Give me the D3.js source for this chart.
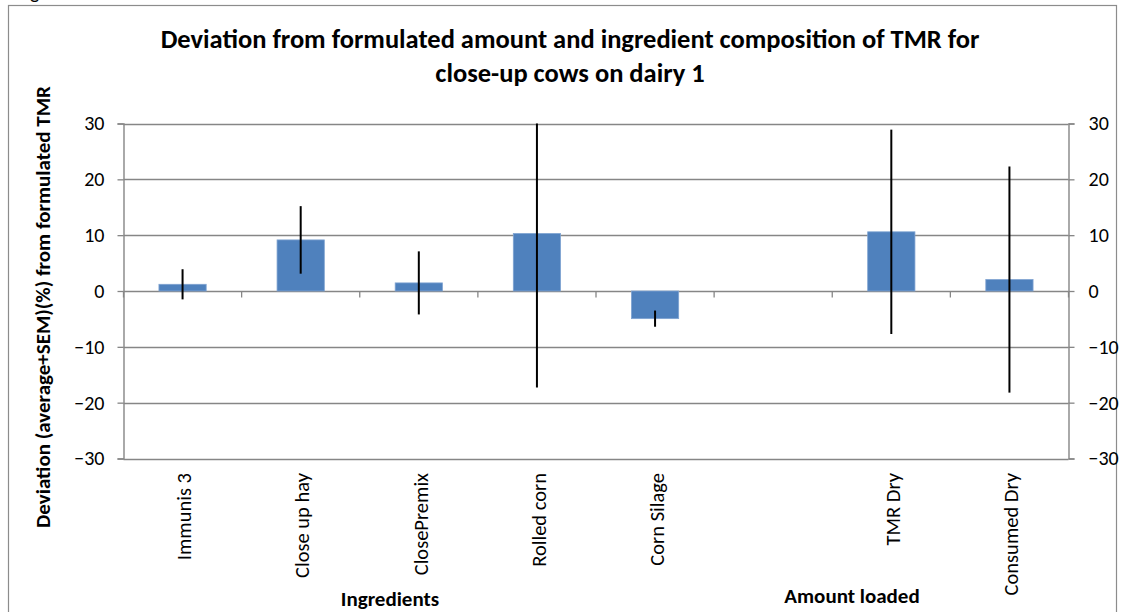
<!DOCTYPE html>
<html><head><meta charset="utf-8">
<script src="https://cdn.jsdelivr.net/npm/d3@7"></script>
<style>body{margin:0;background:#fff}svg{display:block}text{font-family:Carlito,Lato,"Liberation Sans",sans-serif;fill:#000}</style>
</head><body>
<svg id="c" width="1125" height="612"></svg>
<script>
const categories = ["Immunis 3","Close up hay","ClosePremix","Rolled corn","Corn Silage","","TMR Dry","Consumed Dry"];
const values = [1.2, 9.15, 1.45, 10.3, -4.95, null, 10.6, 2.05];
const sem = [2.7, 6.05, 5.65, 27.6, 1.45, null, 18.3, 20.25];
const yTicks = [-30,-20,-10,0,10,20,30];
const titleLines = ["Deviation from formulated amount and ingredient composition of TMR for","close-up cows on dairy 1"];
const yTitle = "Deviation (average+SEM)(%) from formulated TMR";
const groupLabels = ["Ingredients","Amount loaded"];

const svg = d3.select("#c");
const L=123.5, R=1068.5, T=123.5, B=458.5;
const grid="#868686";
const x = d3.scaleBand().domain(d3.range(categories.length)).range([L,R]).padding(0);
const y = d3.scaleLinear().domain([-30,30]).range([B,T]);

// frame
svg.append("rect").attr("x",8.5).attr("y",5.5).attr("width",1108).attr("height",620).attr("fill","none").attr("stroke","#8c8c8c").attr("stroke-width",1.2);
svg.append("text").attr("x",30).attr("y",-1).attr("font-size",20).text("g");

// gridlines
svg.append("g").selectAll("line").data(yTicks).join("line")
 .attr("x1",L).attr("x2",R).attr("y1",d=>Math.round(y(d))+0.5).attr("y2",d=>Math.round(y(d))+0.5)
 .attr("stroke",grid).attr("stroke-width",1.3);

// axes
const la = svg.append("g").attr("transform",`translate(${L},0)`).call(d3.axisLeft(y).tickValues(yTicks).tickSize(6).tickPadding(13));
const ra = svg.append("g").attr("transform",`translate(${R},0)`).call(d3.axisRight(y).tickValues(yTicks).tickSize(6).tickPadding(14));
[la,ra].forEach(a=>{a.selectAll("path").attr("stroke",grid).attr("stroke-width",1.4);
 a.selectAll("line").attr("stroke",grid).attr("stroke-width",1.3);
 a.selectAll("text").attr("font-size",20).attr("fill","#000");
 a.attr("font-family",null).attr("font-size",null);});

// category axis at zero
const y0 = Math.round(y(0))+0.5;
const bounds = d3.range(categories.length+1).map(i=> i<categories.length? x(i) : R);
svg.append("g").selectAll("line").data(bounds).join("line")
 .attr("x1",d=>d).attr("x2",d=>d).attr("y1",y0).attr("y2",y0+6).attr("stroke",grid).attr("stroke-width",1.3);

// bars
const bw = x.bandwidth()*0.4;
const idx = d3.range(categories.length).filter(i=>values[i]!==null);
svg.append("g").selectAll("rect").data(idx).join("rect")
 .attr("x",i=>x(i)+x.bandwidth()/2-bw/2).attr("width",bw)
 .attr("y",i=>y(Math.max(0,values[i]))).attr("height",i=>Math.abs(y(values[i])-y(0)))
 .attr("fill","#4f81bd").attr("stroke","#7fa3d1").attr("stroke-width",0.8);

// error bars (clipped to axis range)
svg.append("g").selectAll("line").data(idx).join("line")
 .attr("x1",i=>x(i)+x.bandwidth()/2).attr("x2",i=>x(i)+x.bandwidth()/2)
 .attr("y1",i=>y(Math.min(30,values[i]+sem[i]))).attr("y2",i=>y(Math.max(-30,values[i]-sem[i])))
 .attr("stroke","#000").attr("stroke-width",2);

// category labels
svg.append("g").selectAll("text").data(d3.range(categories.length)).join("text")
 .attr("transform",i=>`translate(${x(i)+x.bandwidth()/2+1.5},473) rotate(-90)`)
 .attr("text-anchor","end").attr("dy","0.35em").attr("font-size",20.5).text(i=>categories[i]);

// title
svg.append("text").attr("text-anchor","middle").attr("font-size",26.5).attr("font-weight","bold")
 .selectAll("tspan").data(titleLines).join("tspan").attr("x",570).attr("y",(d,i)=>48+i*34).text(d=>d);

// y title
svg.append("text").attr("transform","translate(50,307) rotate(-90)").attr("text-anchor","middle")
 .attr("font-size",21).attr("font-weight","bold").text(yTitle);

// group labels
svg.append("text").attr("x",390).attr("y",606).attr("text-anchor","middle").attr("font-size",21).attr("font-weight","bold").text(groupLabels[0]);
svg.append("text").attr("x",852).attr("y",603).attr("text-anchor","middle").attr("font-size",21).attr("font-weight","bold").text(groupLabels[1]);
</script>
</body></html>
